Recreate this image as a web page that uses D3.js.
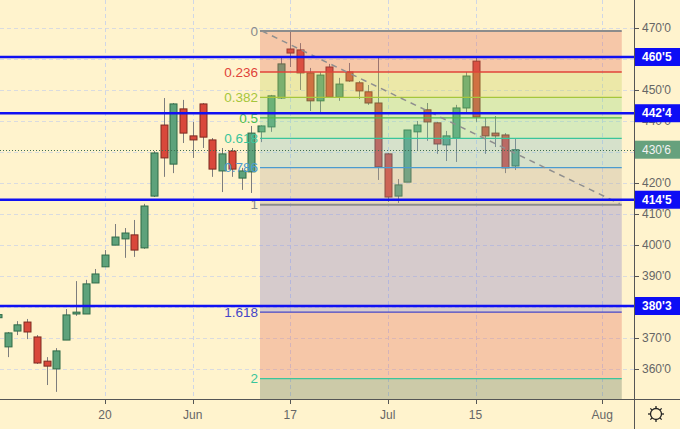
<!DOCTYPE html>
<html>
<head>
<meta charset="utf-8">
<script src="https://cdn.jsdelivr.net/npm/d3@7"></script>
<style>
  html, body { margin: 0; padding: 0; background: #fff3cd; }
  svg { display: block; font-family: "Liberation Sans", Arial, sans-serif; }
</style>
</head>
<body>
<svg id="chart" width="680" height="429"></svg>
<script>
// trading days, May 3 .. Aug 6 (future days only carry the fib / axis)
var dates = [
  "2019-05-03", "2019-05-06", "2019-05-07", "2019-05-08", "2019-05-09", "2019-05-10",
  "2019-05-13", "2019-05-14", "2019-05-15", "2019-05-16", "2019-05-17",
  "2019-05-20", "2019-05-21", "2019-05-22", "2019-05-23", "2019-05-24",
  "2019-05-28", "2019-05-29", "2019-05-30", "2019-05-31",
  "2019-06-03", "2019-06-04", "2019-06-05", "2019-06-06", "2019-06-07",
  "2019-06-10", "2019-06-11", "2019-06-12", "2019-06-13", "2019-06-14",
  "2019-06-17", "2019-06-18", "2019-06-19", "2019-06-20", "2019-06-21",
  "2019-06-24", "2019-06-25", "2019-06-26", "2019-06-27", "2019-06-28",
  "2019-07-01", "2019-07-02", "2019-07-03", "2019-07-05",
  "2019-07-08", "2019-07-09", "2019-07-10", "2019-07-11", "2019-07-12",
  "2019-07-15", "2019-07-16", "2019-07-17", "2019-07-18", "2019-07-19",
  "2019-07-22", "2019-07-23", "2019-07-24", "2019-07-25", "2019-07-26",
  "2019-07-29", "2019-07-30", "2019-07-31", "2019-08-01", "2019-08-02",
  "2019-08-05", "2019-08-06"
];

var opens = [
  376.6, 367.2, 372.3, 375.2, 370.4, 362.6, 360.1, 369.4, 377.8, 377.8, 387.8,
  393.0, 400.0, 402.0, 403.3, 399.1, 415.8, 438.7, 426.1, 443.9,
  435.2, 445.5, 433.9, 423.9, 430.3, 421.6, 423.6, 436.5, 438.1, 447.4,
  463.2, 462.9, 455.5, 446.5, 457.4, 447.7, 455.8, 452.3, 449.4, 445.8,
  429.4, 415.8, 420.3, 436.5, 443.6, 439.4, 432.3, 434.5, 444.2,
  459.3, 438.1, 436.1, 435.5, 425.5
];
var highs = [
  378.2, 372.0, 375.5, 376.2, 371.0, 363.9, 366.8, 379.4, 388.4, 388.8, 392.3,
  398.4, 406.8, 405.5, 408.1, 413.3, 430.3, 447.4, 445.8, 446.8,
  439.7, 445.8, 434.5, 431.3, 431.3, 424.9, 438.4, 438.6, 448.4, 460.3,
  468.9, 465.1, 457.1, 455.8, 458.4, 453.9, 458.7, 452.9, 451.6, 460.3,
  429.7, 421.3, 437.1, 440.0, 445.8, 439.7, 436.8, 445.2, 455.8,
  460.3, 441.0, 441.6, 436.1, 434.5
];
var lows = [
  376.2, 363.9, 371.0, 369.7, 361.7, 354.9, 352.7, 369.4, 377.2, 377.8, 387.8,
  393.0, 400.0, 395.9, 396.2, 398.8, 415.5, 422.0, 423.2, 432.9,
  428.1, 431.3, 422.0, 417.1, 422.0, 417.8, 416.8, 433.2, 436.5, 447.1,
  457.4, 450.0, 443.2, 442.9, 447.4, 446.5, 452.6, 447.1, 445.2, 421.0,
  413.9, 413.6, 420.3, 430.3, 433.6, 429.4, 427.1, 426.8, 442.6,
  439.7, 429.4, 431.6, 423.2, 424.2
];
var closes = [
  377.6, 371.7, 374.3, 372.0, 362.0, 361.0, 365.9, 377.5, 378.4, 387.5, 390.7,
  396.8, 402.6, 403.9, 398.4, 412.6, 429.7, 428.1, 445.5, 436.1,
  433.9, 434.8, 424.5, 429.4, 424.5, 423.9, 436.1, 438.4, 448.1, 458.4,
  461.9, 455.5, 446.5, 454.8, 447.7, 451.9, 452.9, 449.7, 445.8, 425.2,
  415.5, 419.4, 437.1, 438.7, 439.7, 432.6, 435.2, 444.2, 454.5,
  441.3, 435.2, 435.2, 424.9, 430.75
];

var priceTicks = [360, 370, 380, 390, 400, 410, 420, 430, 440, 450, 460, 470];
var tickDates = ["2019-05-20", "2019-06-03", "2019-06-17", "2019-07-01", "2019-07-15", "2019-08-01"];
var tickLabels = ["20", "Jun", "17", "Jul", "15", "Aug"];

var keyLevels = [460.625, 442.5, 414.625, 380.375];
var lastPrice = 430.75;

var fibRatios = [0, 0.236, 0.382, 0.5, 0.618, 0.786, 1, 1.618, 2, 2.618];
var fibHigh = 469.0, fibLow = 413.0;
var fibStart = "2019-06-12", fibEnd = "2019-08-05";

// styles
var lineColors = ["#8c8c8c", "#e0433a", "#a6c63c", "#4cbd4c", "#3ac59b", "#4a9bd0", "#8c8c8c", "#4646c8", "#3ac59b"];
var zoneColors = ["rgb(225,100,82)", "rgb(192,210,82)", "rgb(138,216,108)", "rgb(122,216,150)",
                  "rgb(118,186,200)", "rgb(178,166,150)", "rgb(118,113,202)", "rgb(225,100,82)", "rgb(85,110,82)"];

var W = 680, H = 429, plotW = 634, plotH = 399;

// eighths notation: 442.5 -> 442'4
function fmt(p) {
  var whole = Math.floor(p + 1e-9);
  var eighth = Math.round((p - whole) * 8);
  return whole + "'" + eighth;
}

var svg = d3.select("#chart");

var x = d3.scalePoint().domain(dates).range([-2.25, 631.5]);
var y = d3.scaleLinear().domain([380.375, 460.625]).range([306, 57]);

svg.append("rect").attr("width", W).attr("height", H).attr("fill", "#fff3cd");

svg.append("clipPath").attr("id", "plot")
  .append("rect").attr("width", plotW).attr("height", plotH);

var plot = svg.append("g").attr("clip-path", "url(#plot)");

// grid
plot.selectAll(".hgrid").data(priceTicks).enter().append("line")
  .attr("x1", 0).attr("x2", plotW)
  .attr("y1", function (d) { return Math.round(y(d)) + 0.5; })
  .attr("y2", function (d) { return Math.round(y(d)) + 0.5; })
  .attr("stroke", "#d9dbe0").attr("stroke-dasharray", "4,3");

plot.selectAll(".vgrid").data(tickDates).enter().append("line")
  .attr("x1", function (d) { return Math.round(x(d)) + 0.5; })
  .attr("x2", function (d) { return Math.round(x(d)) + 0.5; })
  .attr("y1", 0).attr("y2", plotH)
  .attr("stroke", "#cfd6e6").attr("stroke-dasharray", "4,3");

// candles
var candles = closes.map(function (c, i) {
  return { date: dates[i], o: opens[i], h: highs[i], l: lows[i], c: c };
});

var cg = plot.selectAll(".candle").data(candles).enter().append("g")
  .attr("class", "candle");

cg.append("line")
  .attr("x1", function (d) { return Math.round(x(d.date)) + 0.5; })
  .attr("x2", function (d) { return Math.round(x(d.date)) + 0.5; })
  .attr("y1", function (d) { return y(d.h); })
  .attr("y2", function (d) { return y(d.l); })
  .attr("stroke", "#7d7d7d").attr("stroke-width", 1);

cg.append("rect")
  .attr("x", function (d) { return Math.round(x(d.date)) - 3; })
  .attr("width", 7)
  .attr("y", function (d) { return y(Math.max(d.o, d.c)); })
  .attr("height", function (d) { return Math.max(1.5, Math.abs(y(d.o) - y(d.c))); })
  .attr("fill", function (d) { return d.c >= d.o ? "#5ea27b" : "#d9483b"; })
  .attr("stroke", function (d) { return d.c >= d.o ? "#2f6b47" : "#7d2a20"; })
  .attr("stroke-width", 1);

// fibonacci retracement
var fibPrice = function (r) { return fibHigh - r * (fibHigh - fibLow); };
var fx0 = x(fibStart) - 1, fx1 = x(fibEnd);
var zones = d3.pairs(fibRatios);

plot.selectAll(".zone").data(zones).enter().append("rect")
  .attr("x", fx0).attr("width", fx1 - fx0)
  .attr("y", function (d) { return y(fibPrice(d[0])); })
  .attr("height", function (d) { return y(fibPrice(d[1])) - y(fibPrice(d[0])); })
  .attr("fill", function (d, i) { return zoneColors[i]; })
  .attr("fill-opacity", 0.3);

var levels = fibRatios.slice(0, 9);
plot.selectAll(".fibline").data(levels).enter().append("line")
  .attr("x1", fx0).attr("x2", fx1)
  .attr("y1", function (d) { return y(fibPrice(d)); })
  .attr("y2", function (d) { return y(fibPrice(d)); })
  .attr("stroke", function (d, i) { return lineColors[i]; })
  .attr("stroke-width", function (d) { return d === 0 || d === 1 ? 2 : 1.3; });

plot.selectAll(".fiblabel").data(levels).enter().append("text")
  .attr("x", fx0 - 2)
  .attr("y", function (d) { return y(fibPrice(d)); })
  .attr("dy", "0.35em")
  .attr("text-anchor", "end")
  .attr("font-size", 13.5)
  .attr("fill", function (d, i) { return lineColors[i]; })
  .text(function (d) { return String(d); });

// trend line of the retracement
plot.append("line")
  .attr("x1", fx0 + 2).attr("y1", y(fibHigh))
  .attr("x2", fx1 - 2).attr("y2", y(fibLow) - 1)
  .attr("stroke", "#8f8f8f").attr("stroke-width", 1.5)
  .attr("stroke-dasharray", "6,5");

// last price dotted line
plot.append("line")
  .attr("x1", 0).attr("x2", plotW)
  .attr("y1", Math.round(y(lastPrice)) + 0.5).attr("y2", Math.round(y(lastPrice)) + 0.5)
  .attr("stroke", "#3f6f52").attr("stroke-dasharray", "1,2");

// key horizontal levels
plot.selectAll(".key").data(keyLevels).enter().append("line")
  .attr("x1", 0).attr("x2", plotW)
  .attr("y1", function (d) { return y(d); })
  .attr("y2", function (d) { return y(d); })
  .attr("stroke", "#1010f2").attr("stroke-width", 2.5);

// axes frame
svg.append("line").attr("x1", plotW + 0.5).attr("x2", plotW + 0.5)
  .attr("y1", 0).attr("y2", H).attr("stroke", "#555");
svg.append("line").attr("x1", 0).attr("x2", W)
  .attr("y1", plotH + 0.5).attr("y2", plotH + 0.5).attr("stroke", "#555");

// price axis; labels fully covered by a tag are left out, as on the source
var tagged = keyLevels.concat([lastPrice]);
var shownTicks = priceTicks.filter(function (t) {
  return !tagged.some(function (p) { return Math.abs(y(p) - y(t)) < 6; });
});

var yAxis = svg.append("g");
yAxis.selectAll(".ytick").data(priceTicks).enter().append("line")
  .attr("x1", plotW).attr("x2", plotW + 5)
  .attr("y1", function (d) { return Math.round(y(d)) + 0.5; })
  .attr("y2", function (d) { return Math.round(y(d)) + 0.5; })
  .attr("stroke", "#555");
yAxis.selectAll(".ylabel").data(shownTicks).enter().append("text")
  .attr("x", 642).attr("y", function (d) { return y(d); })
  .attr("dy", "0.35em").attr("font-size", 12).attr("fill", "#666")
  .text(fmt);

var keyTags = svg.selectAll(".tag").data(keyLevels).enter().append("g");
keyTags.append("rect")
  .attr("x", plotW + 1).attr("width", W - plotW - 1)
  .attr("y", function (d) { return y(d) - 9; }).attr("height", 18)
  .attr("fill", "#0d0df5");
keyTags.append("text")
  .attr("x", 642).attr("y", function (d) { return y(d); })
  .attr("dy", "0.35em").attr("font-size", 12).attr("font-weight", "bold")
  .attr("fill", "#fff").text(fmt);

svg.append("rect")
  .attr("x", plotW + 1).attr("width", W - plotW - 1)
  .attr("y", y(lastPrice) - 9).attr("height", 18)
  .attr("fill", "#66a17d");
svg.append("text")
  .attr("x", 642).attr("y", y(lastPrice)).attr("dy", "0.35em")
  .attr("font-size", 12).attr("fill", "#f2f2f2").text(fmt(lastPrice));

// time axis
var xAxis = svg.append("g");
xAxis.selectAll(".xtick").data(tickDates).enter().append("line")
  .attr("x1", function (d) { return Math.round(x(d)) + 0.5; })
  .attr("x2", function (d) { return Math.round(x(d)) + 0.5; })
  .attr("y1", plotH).attr("y2", plotH + 5)
  .attr("stroke", "#555");
xAxis.selectAll(".xlabel").data(tickDates).enter().append("text")
  .attr("x", function (d) { return x(d); })
  .attr("y", 415).attr("dy", "0.35em")
  .attr("text-anchor", "middle").attr("font-size", 12).attr("fill", "#666")
  .text(function (d, i) { return tickLabels[i]; });

// settings gear
var gear = svg.append("g").attr("transform", "translate(656,414)")
  .attr("fill", "none").attr("stroke", "#222").attr("stroke-width", 1.3);
gear.append("circle").attr("r", 5.5);
gear.selectAll("line").data(d3.range(8)).enter().append("line")
  .attr("x1", function (d) { return 5.5 * Math.cos(d * Math.PI / 4); })
  .attr("y1", function (d) { return 5.5 * Math.sin(d * Math.PI / 4); })
  .attr("x2", function (d) { return 8 * Math.cos(d * Math.PI / 4); })
  .attr("y2", function (d) { return 8 * Math.sin(d * Math.PI / 4); });
</script>
</body>
</html>
